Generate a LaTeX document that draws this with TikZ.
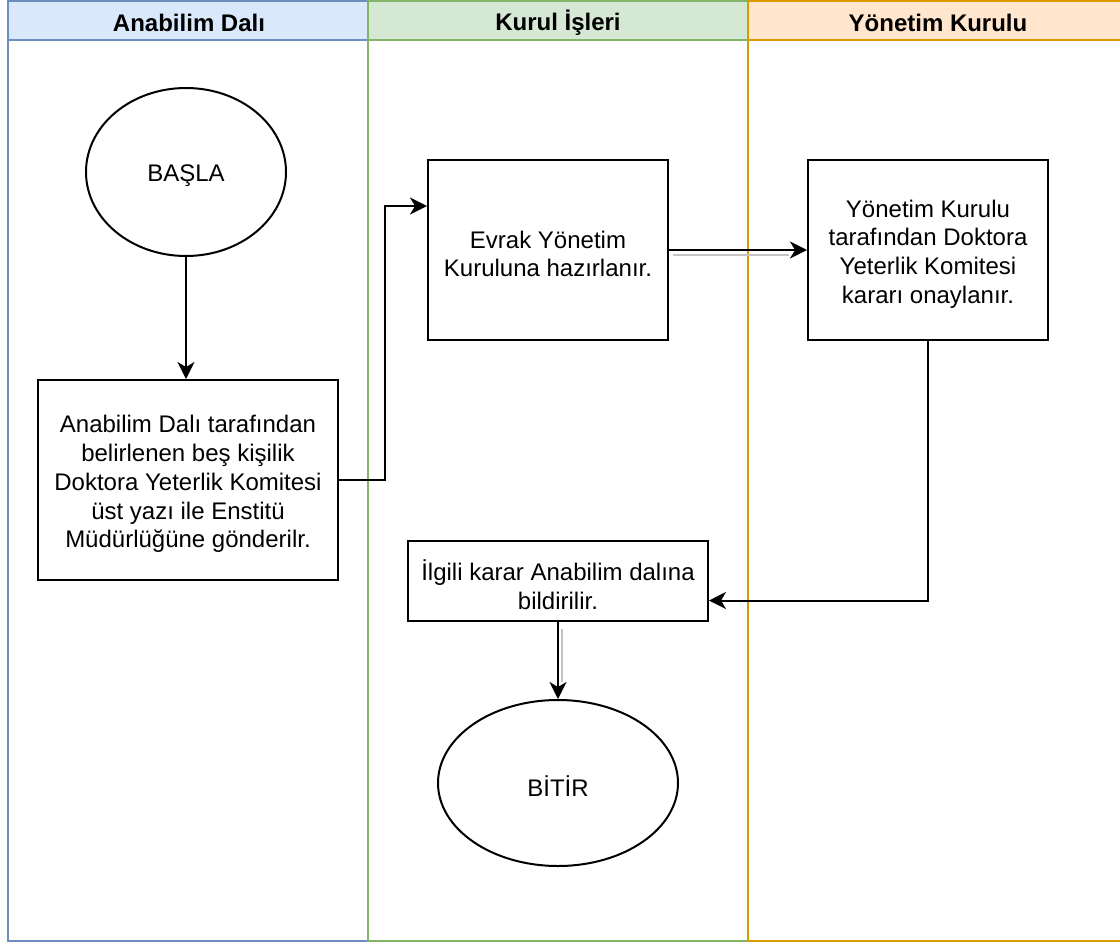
\documentclass[tikz,border=0pt]{standalone}
\usepackage{fontspec}
\setmainfont{Liberation Sans}
\usetikzlibrary{shapes.geometric,arrows.meta}

\definecolor{laneAfill}{HTML}{DAE8FC}
\definecolor{laneAline}{HTML}{6C8EBF}
\definecolor{laneBfill}{HTML}{D5E8D4}
\definecolor{laneBline}{HTML}{82B366}
\definecolor{laneCfill}{HTML}{FFE6CC}
\definecolor{laneCline}{HTML}{D79B00}
\definecolor{shadowgray}{HTML}{C4C4C4}

\tikzset{
  txt/.style={font=\fontsize{24}{28.8}\selectfont, align=center, inner sep=0pt},
  lanehead/.style={font=\fontsize{24}{28.8}\selectfont\bfseries, inner sep=0pt},
  procbox/.style={draw=black, line width=2pt, fill=white, rectangle, inner sep=0pt},
  terminal/.style={draw=black, line width=2pt, fill=white, ellipse, inner sep=0pt},
  flow/.style={line width=2pt, -{Stealth[length=17pt, width=17pt, inset=5pt]}},
  edgeshadow/.style={line width=2pt, shadowgray},
}

\begin{document}
\begin{tikzpicture}[x=1pt, y=-1pt]
  \useasboundingbox (0,0) rectangle (1120,943);
  \clip (0,0) rectangle (1120,943);

  % swimlanes
  \fill[laneAfill] (7.5,1) rectangle (368,40);
  \draw[laneAline, line width=2pt] (7.5,1) rectangle (368,941) (7.5,40) -- (368,40);
  \fill[laneBfill] (368,1) rectangle (748,40);
  \draw[laneBline, line width=2pt] (368,1) rectangle (748,941) (368,40) -- (748,40);
  \fill[laneCfill] (748,1) rectangle (1130,40);
  \draw[laneCline, line width=2pt] (748,1) rectangle (1130,941) (748,40) -- (1130,40);

  \node[lanehead] (hA) at (189,22.5) {Anabilim Dalı};
  \node[lanehead] (hB) at (558,22.5) {Kurul İşleri};
  \node[lanehead] (hC) at (938,22.5) {Yönetim Kurulu};

  % flow shapes
  \node[terminal, minimum width=200pt, minimum height=168pt] (start) at (186,172) {};
  \node[procbox, minimum width=300pt, minimum height=200pt] (dept) at (188,480) {};
  \node[procbox, minimum width=240pt, minimum height=180pt] (prep) at (548,250) {};
  \node[procbox, minimum width=240pt, minimum height=180pt] (board) at (928,250) {};
  \node[procbox, minimum width=300pt, minimum height=80pt] (notify) at (558,580.5) {};
  \node[terminal, minimum width=240pt, minimum height=166pt] (finish) at (558,783) {};

  % their texts, set a little below the geometric centre
  \node[txt] (start-t) at ([yshift=-4pt]start.center) {BAŞLA};
  \node[txt] (dept-t) at ([yshift=-4pt]dept.center)
    {Anabilim Dalı tarafından\\belirlenen beş kişilik\\Doktora Yeterlik Komitesi\\üst yazı ile Enstitü\\Müdürlüğüne gönderilr.};
  \node[txt] (prep-t) at ([yshift=-4pt]prep.center) {Evrak Yönetim\\Kuruluna hazırlanır.};
  \node[txt] (board-t) at ([yshift=-4pt]board.center)
    {Yönetim Kurulu\\tarafından Doktora\\Yeterlik Komitesi\\kararı onaylanır.};
  \node[txt] (notify-t) at ([yshift=-4pt]notify.center) {İlgili karar Anabilim dalına\\bildirilir.};
  \node[txt] (finish-t) at ([yshift=-3pt]finish.center) {BİTİR};

  % edge shadows
  \draw[edgeshadow] ([xshift=4pt, yshift=-5pt]prep.east) -- ([xshift=-18pt, yshift=-5pt]board.west);
  \draw[edgeshadow] ([xshift=4pt, yshift=-7pt]notify.south) -- ([xshift=4pt, yshift=17pt]finish.north);

  % connectors
  \draw[flow] (start.south) -- (start.south |- dept.north);
  \draw[flow] (dept.east) -- ++(46,0) |- ([yshift=44pt]prep.west);
  \draw[flow] (prep.east) -- (board.west);
  \draw[flow] (board.south) |- ([yshift=-20pt]notify.east);
  \draw[flow] (notify.south) -- (finish.north);
\end{tikzpicture}
\end{document}
